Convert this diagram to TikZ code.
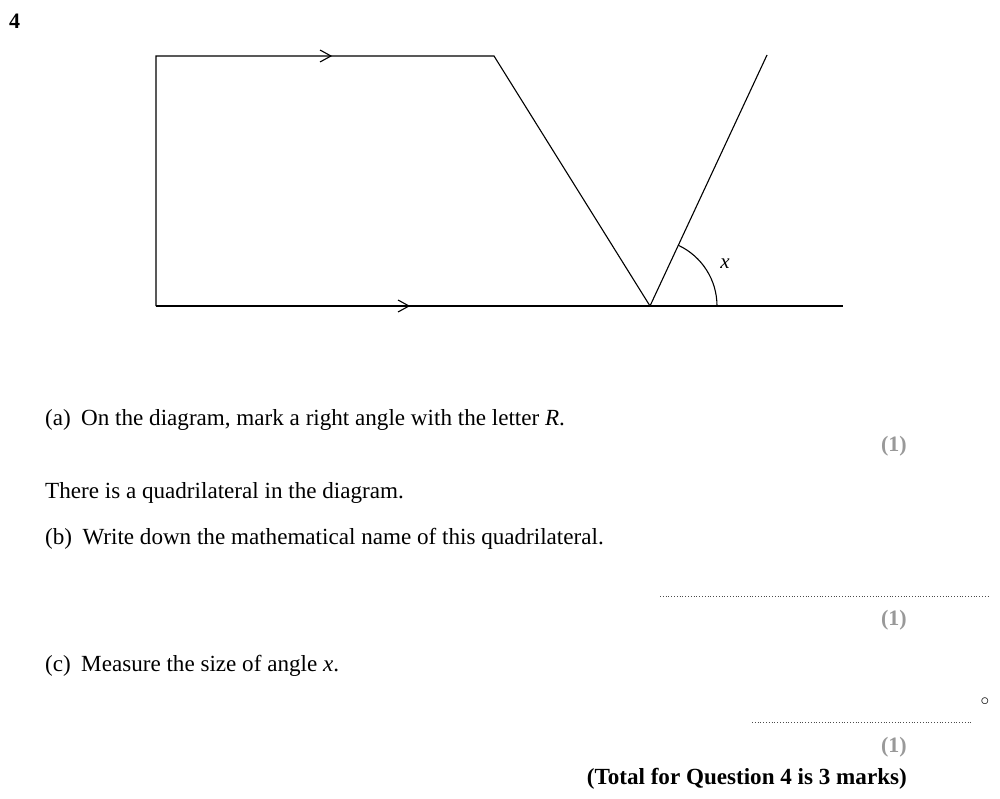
\documentclass[tikz,border=0pt]{standalone}
\usepackage{fontspec}
\setmainfont{Liberation Serif}
\usetikzlibrary{calc}
\begin{document}
\begin{tikzpicture}[x=1pt,y=-1pt,
  seg/.style={line width=1.1pt,black},
  body/.style={anchor=west,inner sep=0pt,font=\fontsize{23.1}{27}\selectfont},
  marktext/.style={anchor=east,inner sep=0pt,text=gray!80,font=\fontsize{22}{27}\selectfont\bfseries},
  chev/.style={line width=1.1pt,black},
  answer/.style={line width=0.8pt,dotted,black!70}]
\useasboundingbox[fill=white] (0,0) rectangle (1000,799);
\node[anchor=west,inner sep=0pt,font=\fontsize{22}{26}\selectfont\bfseries] (qnum) at (9,21) {4};
% diagram
\coordinate (A) at (156,56);
\coordinate (B) at (494,56);
\coordinate (C) at (650,306);
\coordinate (D) at (156,306);
\coordinate (E) at (843,306);
\coordinate (F) at (767,55);
\draw[seg] (D) -- (A) -- (B) -- (C);
\draw[seg] (D) -- (E);
\draw[seg] (C) -- (F);
% parallel arrows
\coordinate (t1) at (331,56);
\coordinate (t2) at (409,306);
\draw[chev] ($(t1)+(-11,-6)$) -- (t1) -- ($(t1)+(-11,6)$);
\draw[chev] ($(t2)+(-11,-6)$) -- (t2) -- ($(t2)+(-11,6)$);
% angle
\draw[seg] ($(C)+(67,0)$) arc[start angle=0,end angle=-65,radius=67];
\node[inner sep=0pt,font=\fontsize{21}{24}\selectfont\itshape] (xl) at (725,264) {x};
% text
\node[body] (pa) at (45,420) {(a)\hspace{0.45em}On the diagram, mark a right angle with the letter \textit{R}.};
\node[marktext] (m1) at (907,446) {(1)};
\node[body] (q) at (45,493) {There is a quadrilateral in the diagram.};
\node[body] (pb) at (45,539) {(b)\hspace{0.45em}Write down the mathematical name of this quadrilateral.};
\draw[answer] (660,596) -- (990,596);
\node[marktext] (m2) at (907,620) {(1)};
\node[body] (pc) at (45,666) {(c)\hspace{0.45em}Measure the size of angle \textit{x}.};
\node[inner sep=0pt,font=\fontsize{16}{20}\selectfont] (deg) at (985,702) {$\circ$};
\draw[answer] (752,722) -- (972,722);
\node[marktext] (m3) at (907,747) {(1)};
\node[anchor=east,inner sep=0pt,font=\fontsize{23.1}{27}\selectfont\bfseries] (tot) at (907,779) {(Total for Question 4 is 3 marks)};
\end{tikzpicture}
\end{document}
